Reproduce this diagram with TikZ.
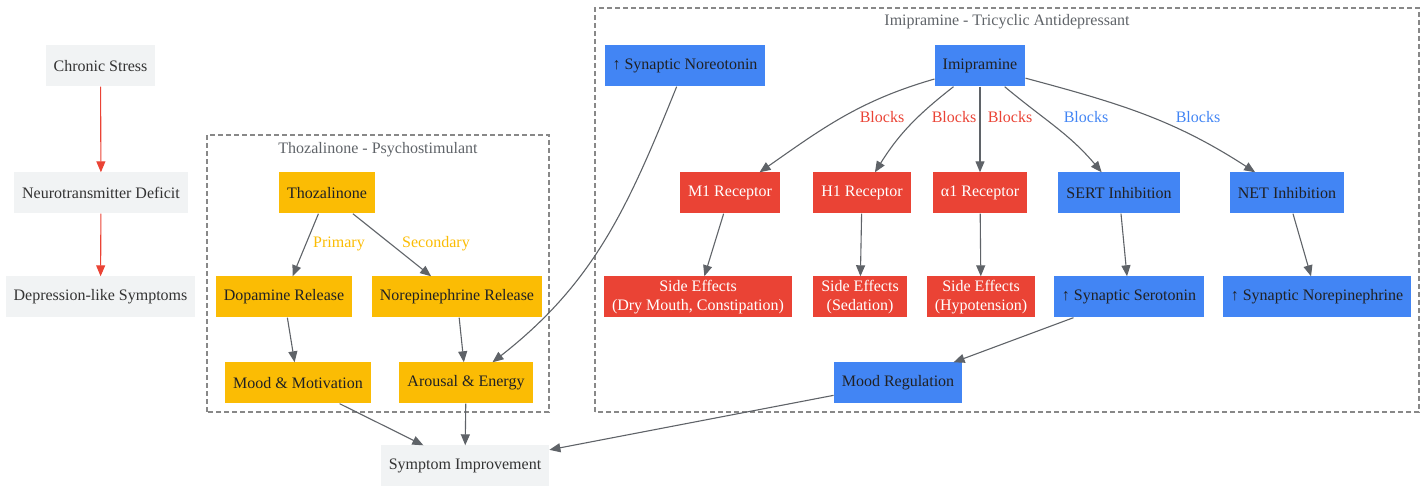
\documentclass[tikz,border=0pt]{standalone}
\usepackage{fontspec}
\setmainfont{Liberation Serif}
\usetikzlibrary{arrows.meta}
\definecolor{gbox}{HTML}{F1F3F4}
\definecolor{gyel}{HTML}{FBBC04}
\definecolor{gred}{HTML}{EA4335}
\definecolor{gblue}{HTML}{4285F4}
\definecolor{gline}{HTML}{5F6368}
\definecolor{gtext}{HTML}{202124}
\definecolor{gframe}{HTML}{888888}

\begin{document}
\begin{tikzpicture}[x=1pt,y=1pt,font=\fontsize{16}{19}\selectfont,
    box/.style={rectangle, minimum height=41pt, inner xsep=8pt, align=center, text=gtext},
    plainbox/.style={box, fill=gbox, text=black!80},
    thozbox/.style={box, fill=gyel},
    tcabox/.style={box, fill=gblue},
    sidebox/.style={box, fill=gred, text=white},
    link/.style={-{Triangle[length=11pt,width=9pt]}, line width=1.1pt, draw=gline},
    redlink/.style={link, draw=gred},
    frame/.style={draw=gframe, dash pattern=on 5pt off 3pt, line width=1.2pt},
    title/.style={text=gline},
    lbl/.style={inner sep=1pt}]
    \useasboundingbox (0,0) rectangle (1426,486);

    % clusters
    \draw[frame] (207,74) rectangle (549,351);
    \node[title] (thoztitle) at (378,336) {Thozalinone - Psychostimulant};
    \draw[frame] (595,74) rectangle (1419,478);
    \node[title] (imititle) at (1007,464) {Imipramine - Tricyclic Antidepressant};

    % baseline pathway
    \node[plainbox] (stress) at (100.5,420) {Chronic Stress};
    \node[plainbox] (deficit) at (101,293) {Neurotransmitter Deficit};
    \node[plainbox] (symptoms) at (100.5,189) {Depression-like Symptoms};

    % thozalinone
    \node[thozbox] (thoz) at (327,293) {Thozalinone};
    \node[thozbox] (dopa) at (284,189) {Dopamine Release};
    \node[thozbox] (nerel) at (457,189) {Norepinephrine Release};
    \node[thozbox] (moodmot) at (298,103) {Mood \& Motivation};
    \node[thozbox] (arousal) at (466,103) {Arousal \& Energy};

    % imipramine
    \node[tcabox] (noreo) at (685,420) {↑ Synaptic Noreotonin};
    \node[tcabox] (imi) at (980,420) {Imipramine};
    \node[sidebox] (m1) at (730,293) {M1 Receptor};
    \node[sidebox] (h1) at (862,293) {H1 Receptor};
    \node[sidebox] (a1) at (980,293) {α1 Receptor};
    \node[tcabox] (sert) at (1119,293) {SERT Inhibition};
    \node[tcabox] (net) at (1287,293) {NET Inhibition};
    \node[sidebox] (se1) at (698,189) {Side Effects\\(Dry Mouth, Constipation)};
    \node[sidebox] (se2) at (860,189) {Side Effects\\(Sedation)};
    \node[sidebox] (se3) at (981,189) {Side Effects\\(Hypotension)};
    \node[tcabox] (ser) at (1129,189) {↑ Synaptic Serotonin};
    \node[tcabox] (nors) at (1317,189) {↑ Synaptic Norepinephrine};
    \node[tcabox] (moodreg) at (898,103) {Mood Regulation};

    \node[plainbox] (improve) at (465,20) {Symptom Improvement};

    \draw[redlink] (stress) -- (deficit);
    \draw[redlink] (deficit) -- (symptoms);

    \draw[link] (thoz) -- (dopa) node[lbl, text=gyel] at (339,242) {Primary};
    \draw[link] (thoz) -- (nerel) node[lbl, text=gyel] at (436,242) {Secondary};
    \draw[link] (dopa) -- (moodmot);
    \draw[link] (nerel) -- (arousal);
    \draw[link] (moodmot) -- (improve);
    \draw[link] (arousal) -- (improve);

    \draw[link] (imi) to[out=196,in=35] (m1) node[lbl, text=gred] at (882,369) {Blocks};
    \draw[link] (imi) to[out=218,in=58] (h1) node[lbl, text=gred] at (954,369) {Blocks};
    \draw[link] (imi) -- (a1) node[lbl, text=gred] at (1010,369) {Blocks};
    \draw[link] (imi) to[out=-40,in=130] (sert) node[lbl, text=gblue] at (1086,369) {Blocks};
    \draw[link] (imi) to[out=-15,in=147] (net) node[lbl, text=gblue] at (1198,369) {Blocks};
    \draw[link] (m1) -- (se1);
    \draw[link] (h1) -- (se2);
    \draw[link] (a1) -- (se3);
    \draw[link] (sert) -- (ser);
    \draw[link] (net) -- (nors);
    \draw[link] (ser) -- (moodreg);
    \draw[link] (noreo) to[out=-112,in=38] (arousal);
    \draw[link] (moodreg) -- (improve);
\end{tikzpicture}
\end{document}
